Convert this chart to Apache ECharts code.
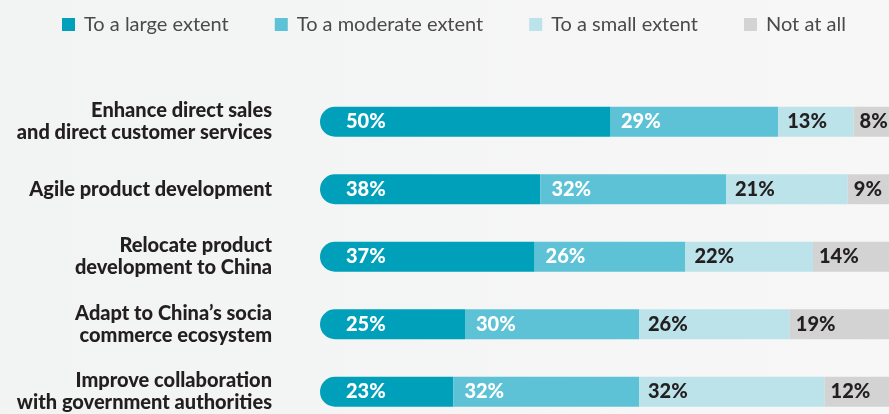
<!DOCTYPE html>
<html>
<head>
<meta charset="utf-8">
<script src="https://cdn.jsdelivr.net/npm/echarts@6/dist/echarts.min.js"></script>
<style>
  html, body { margin: 0; padding: 0; background: #f4f5f5; }
  #chart { width: 889px; height: 414px; }
</style>
</head>
<body>
<div id="chart"></div>
<script>
// Survey items, top to bottom
const categories = [
  'Enhance direct sales\nand direct customer services',
  'Agile product development',
  'Relocate product\ndevelopment to China',
  'Adapt to China\u2019s socia\ncommerce ecosystem',
  'Improve collaboration\nwith government authorities'
];

// Share of respondents per answer (%)
const largeExtent    = [50, 38, 37, 25, 23];
const moderateExtent = [29, 32, 26, 30, 32];
const smallExtent    = [13, 21, 22, 26, 32];
const notAtAll       = [8, 9, 14, 19, 12];

const seriesNames = ['To a large extent', 'To a moderate extent', 'To a small extent', 'Not at all'];
const seriesData = [largeExtent, moderateExtent, smallExtent, notAtAll];
const colors = ['#00a0ba', '#5dc2d5', '#bce3ea', '#d3d3d3'];
const labelColors = ['#ffffff', '#ffffff', '#231f20', '#231f20'];
const radii = [[15, 0, 0, 15], 0, 0, 0];
const labelGaps = [26, 11, 9, 6];

const chart = echarts.init(document.getElementById('chart'));

chart.setOption({
  backgroundColor: {
    type: 'linear', x: 0, y: 0, x2: 1, y2: 0,
    colorStops: [{ offset: 0, color: '#f2f3f3' }, { offset: 1, color: '#f7f7f7' }]
  },
  animation: false,
  color: colors,
  legend: {
    left: 62,
    top: 14.5,
    padding: 0,
    itemWidth: 13,
    itemHeight: 13,
    itemGap: 46,
    icon: 'rect',
    textStyle: {
      fontFamily: 'Lato',
      fontSize: 20,
      lineHeight: 18,
      color: '#4a4a4a',
      padding: [0, 0, 0, 4]
    },
    data: seriesNames
  },
  // the bars run slightly past the right and bottom edges of the canvas
  grid: { left: 320, right: -11, top: 88, bottom: -11.5, outerBoundsMode: 'none' },
  xAxis: {
    type: 'value',
    min: 0,
    max: 100,
    show: false
  },
  yAxis: {
    type: 'category',
    inverse: true,
    data: categories,
    axisLine: { show: false },
    axisTick: { show: false },
    axisLabel: {
      margin: 48,
      fontFamily: 'Lato',
      fontWeight: 900,
      fontSize: 20,
      lineHeight: 22,
      color: '#231f20',
      align: 'right'
    }
  },
  series: seriesNames.map((name, i) => ({
    name: name,
    type: 'bar',
    stack: 'total',
    barWidth: 30,
    data: seriesData[i],
    itemStyle: { color: colors[i], borderRadius: radii[i] },
    label: {
      show: true,
      position: 'insideLeft',
      distance: labelGaps[i],
      formatter: '{c}%',
      fontFamily: 'Lato',
      fontWeight: 900,
      fontSize: 20,
      color: labelColors[i]
    }
  }))
});
</script>
</body>
</html>
